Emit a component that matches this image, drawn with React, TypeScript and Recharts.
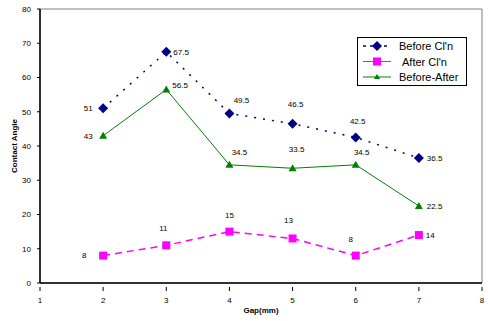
import {
  LineChart,
  Line,
  XAxis,
  YAxis,
  ReferenceArea,
  LabelList,
} from "recharts";

const gaps = [2, 3, 4, 5, 6, 7];
const beforeCln = [51, 67.5, 49.5, 46.5, 42.5, 36.5];
const afterCln = [8, 11, 15, 13, 8, 14];
const beforeMinusAfter = [43, 56.5, 34.5, 33.5, 34.5, 22.5];
const xTicks = [1, 2, 3, 4, 5, 6, 7, 8];
const yTicks = [0, 10, 20, 30, 40, 50, 60, 70, 80];

const data = gaps.map((g, i) => ({
  gap: g,
  before: beforeCln[i],
  after: afterCln[i],
  diff: beforeMinusAfter[i],
}));

const FONT = "'Liberation Sans', Arial, sans-serif";
const NAVY = "#000080";
const MAGENTA = "#ff00ff";
const GREEN = "#008000";

// label offsets per point: [dx, dy, anchor]
type Place = [number, number, string];
const beforePlace: Place[] = [
  [-15, 0, "middle"],
  [7, 0, "start"],
  [12, -13, "middle"],
  [3, -20, "middle"],
  [2, -16, "middle"],
  [8, 0, "start"],
];
const afterPlace: Place[] = [
  [-19, -1, "middle"],
  [-3, -17, "middle"],
  [0, -17, "middle"],
  [-4, -18, "middle"],
  [-5, -17, "middle"],
  [7, 0, "start"],
];
const diffPlace: Place[] = [
  [-15, 0, "middle"],
  [6, -4, "start"],
  [10, -13, "middle"],
  [4, -19, "middle"],
  [6, -13, "middle"],
  [8, 0, "start"],
];

const makeLabel = (places: Place[]) => (props: any) => {
  const { x, y, value, index } = props;
  const [dx, dy, anchor] = places[index] || [0, -10, "middle"];
  return (
    <text
      x={x + dx}
      y={y + dy}
      dy={3}
      textAnchor={anchor as any}
      fontSize={8}
      fontFamily={FONT}
      fill="#000"
    >
      {value}
    </text>
  );
};

const Diamond = (props: any) => {
  const { cx, cy, fill } = props;
  if (cx == null || cy == null) return null;
  const r = 5;
  return (
    <path
      d={`M${cx},${cy - r}L${cx + r},${cy}L${cx},${cy + r}L${cx - r},${cy}Z`}
      fill={fill}
    />
  );
};

const Square = (props: any) => {
  const { cx, cy, fill } = props;
  if (cx == null || cy == null) return null;
  return <rect x={cx - 4} y={cy - 4} width={8} height={8} fill={fill} />;
};

const Triangle = (props: any) => {
  const { cx, cy, fill } = props;
  if (cx == null || cy == null) return null;
  return (
    <path
      d={`M${cx},${cy - 4}L${cx + 4},${cy + 3}L${cx - 4},${cy + 3}Z`}
      fill={fill}
    />
  );
};

const XTick = (props: any) => {
  const { x, y, payload } = props;
  return (
    <g>
      <line x1={x} y1={y} x2={x} y2={y - 4} stroke="#000" />
      <text
        x={x}
        y={y + 12}
        textAnchor="middle"
        fontSize={8}
        fontFamily={FONT}
        fill="#000"
      >
        {payload.value}
      </text>
    </g>
  );
};

const legendItems = [
  { name: "Before Cl'n", color: NAVY, dash: "3 4", marker: "diamond" },
  { name: "After Cl'n", color: MAGENTA, dash: undefined, marker: "square" },
  { name: "Before-After", color: GREEN, dash: undefined, marker: "triangle" },
];

const LegendBox = () => (
  <div
    style={{
      position: "absolute",
      left: 357,
      top: 37,
      width: 110,
      height: 49,
      border: "1px solid #000",
      background: "#fff",
      boxSizing: "border-box",
      fontFamily: FONT,
      fontSize: 11,
    }}
  >
    <svg width={108} height={47} style={{ display: "block" }}>
      {legendItems.map((it, i) => {
        const cy = 8 + i * 15.5;
        return (
          <g key={it.name}>
            <line
              x1={5}
              x2={33}
              y1={cy}
              y2={cy}
              stroke={it.color}
              strokeWidth={it.dash ? 1.5 : 1}
              strokeDasharray={it.dash}
            />
            {it.marker === "diamond" && <Diamond cx={19} cy={cy} fill={it.color} />}
            {it.marker === "square" && <Square cx={19} cy={cy} fill={it.color} />}
            {it.marker === "triangle" && (
              <path
                d={`M19,${cy - 3}L22,${cy + 2}L16,${cy + 2}Z`}
                fill={it.color}
              />
            )}
            <text
              x={it.marker === "square" ? 44 : 41}
              y={cy + 4}
              fontSize={11}
              fontFamily={FONT}
              fill="#000"
            >
              {it.name}
            </text>
          </g>
        );
      })}
    </svg>
  </div>
);

export default function App() {
  return (
    <div
      style={{
        position: "absolute",
        left: 0,
        top: 0,
        width: 488,
        height: 321,
        background: "#fff",
      }}
    >
      <LineChart
        width={488}
        height={321}
        data={data}
        margin={{ top: 9, right: 6, bottom: 0, left: 0 }}
      >
        <ReferenceArea
          x1={1}
          x2={8}
          y1={0}
          y2={80}
          fill="none"
          stroke="#808080"
          strokeWidth={1}
          ifOverflow="visible"
        />
        <XAxis
          dataKey="gap"
          type="number"
          domain={[1, 8]}
          ticks={xTicks}
          interval={0}
          height={38}
          axisLine={{ stroke: "#000", strokeWidth: 1.5 }}
          tickLine={false}
          tick={<XTick />}
          label={(p: any) => {
            const vb = p.viewBox || {};
            return (
              <text
                x={vb.x + vb.width / 2}
                y={313}
                textAnchor="middle"
                fontSize={8}
                fontWeight="bold"
                fontFamily={FONT}
                fill="#000"
              >
                Gap(mm)
              </text>
            );
          }}
        />
        <YAxis
          type="number"
          domain={[0, 80]}
          ticks={yTicks}
          interval={0}
          width={40}
          axisLine={{ stroke: "#000", strokeWidth: 1.5 }}
          tickLine={{ stroke: "#000" }}
          tickSize={3}
          tickMargin={6}
          tick={{ fontSize: 8, fontFamily: FONT, fill: "#000" }}
          label={(p: any) => {
            const vb = p.viewBox || {};
            const cy = vb.y + vb.height / 2;
            return (
              <text
                x={14}
                y={cy}
                transform={`rotate(-90 14 ${cy})`}
                textAnchor="middle"
                dominantBaseline="central"
                fontSize={8}
                fontWeight="bold"
                fontFamily={FONT}
                fill="#000"
              >
                Contact Angle
              </text>
            );
          }}
        />
        <Line
          dataKey="before"
          name="Before Cl'n"
          stroke={NAVY}
          strokeWidth={1.5}
          strokeDasharray="2 7"
          dot={<Diamond fill={NAVY} />}
          activeDot={false}
          isAnimationActive={false}
        >
          <LabelList dataKey="before" content={makeLabel(beforePlace)} />
        </Line>
        <Line
          dataKey="after"
          name="After Cl'n"
          stroke={MAGENTA}
          strokeWidth={1.5}
          strokeDasharray="7 5"
          dot={<Square fill={MAGENTA} />}
          activeDot={false}
          isAnimationActive={false}
        >
          <LabelList dataKey="after" content={makeLabel(afterPlace)} />
        </Line>
        <Line
          dataKey="diff"
          name="Before-After"
          stroke={GREEN}
          strokeWidth={1}
          dot={<Triangle fill={GREEN} />}
          activeDot={false}
          isAnimationActive={false}
        >
          <LabelList dataKey="diff" content={makeLabel(diffPlace)} />
        </Line>
      </LineChart>
      <LegendBox />
    </div>
  );
}
